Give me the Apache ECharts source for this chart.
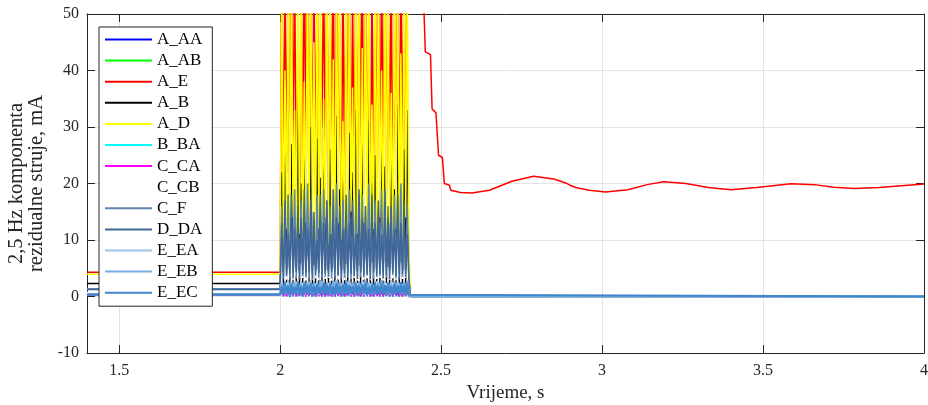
<!DOCTYPE html>
<html>
<head>
<meta charset="utf-8">
<script src="https://cdn.jsdelivr.net/npm/echarts@6/dist/echarts.min.js"></script>
<style>html,body{margin:0;padding:0;background:#fff;}#c{width:928px;height:405px;}</style>
</head>
<body>
<div id="c"></div>
<script>
// ---------- DATA ----------
const seriesNames = ['A_AA','A_AB','A_E','A_B','A_D','B_BA','C_CA','C_CB','C_F','D_DA','E_EA','E_EB','E_EC'];
const xTicks = [1.5, 2, 2.5, 3, 3.5, 4];
const yTicks = [-10, 0, 10, 20, 30, 40, 50];
const startT = 1.4;

// burst sample times (s)
const burstT = [
  2.000,2.005,2.010,2.015,2.020,2.025,2.030,2.035,2.040,2.045,
  2.050,2.055,2.060,2.065,2.070,2.075,2.080,2.085,2.090,2.095,
  2.100,2.105,2.110,2.115,2.120,2.125,2.130,2.135,2.140,2.145,
  2.150,2.155,2.160,2.165,2.170,2.175,2.180,2.185,2.190,2.195,
  2.200,2.205,2.210,2.215,2.220,2.225,2.230,2.235,2.240,2.245,
  2.250,2.255,2.260,2.265,2.270,2.275,2.280,2.285,2.290,2.295,
  2.300,2.305,2.310,2.315,2.320,2.325,2.330,2.335,2.340,2.345,
  2.350,2.355,2.360,2.365,2.370,2.375,2.380,2.385,2.390,2.395,
  2.400
];

const A_AA = [
  0.3,1.0,0.1,0.7,0.2,1.2,0.0,0.8,0.1,1.1,
  0.2,0.6,0.1,1.3,0.0,0.9,0.2,0.7,0.1,1.2,
  0.0,0.8,0.2,1.0,0.1,0.6,0.0,1.3,0.2,0.9,
  0.1,1.1,0.0,0.7,0.2,1.2,0.1,0.8,0.0,1.0,
  0.2,0.6,0.1,1.3,0.0,0.9,0.2,1.1,0.1,0.7,
  0.0,1.2,0.2,0.8,0.1,1.0,0.0,0.6,0.2,1.3,
  0.1,0.9,0.0,1.1,0.2,0.7,0.1,1.2,0.0,0.8,
  0.2,1.0,0.1,0.6,0.0,1.3,0.2,0.9,0.1,1.1,
  0.1
];
const A_AB = [
  0.3,0.8,0.0,1.1,0.2,0.7,0.1,1.3,0.0,0.9,
  0.1,1.2,0.2,0.6,0.0,1.0,0.1,0.8,0.2,1.1,
  0.1,0.7,0.0,1.2,0.2,0.9,0.1,0.6,0.0,1.3,
  0.2,0.8,0.1,1.0,0.0,0.7,0.2,1.1,0.1,0.9,
  0.0,1.2,0.2,0.6,0.1,1.0,0.0,0.8,0.2,1.3,
  0.1,0.7,0.0,1.1,0.2,0.9,0.1,1.2,0.0,0.6,
  0.2,1.0,0.1,0.8,0.0,1.3,0.2,0.7,0.1,1.1,
  0.0,0.9,0.2,1.2,0.1,0.6,0.0,1.0,0.2,0.8,
  0.0
];
const A_E = [
  4.3,62,18,60,22,58,12,65,25,60,
  15,47,3,60,20,62,28,60,10,55,
  22,60,18,60,14,44,30,60,20,58,
  12,60,26,60,16,62,22,49,9,60,
  18,60,24,60,14,53,20,60,11,61,
  27,60,19,60,23,46,2.7,60,15,60,
  21,62,13,60,25,57,17,60,22,60,
  12,50,20,60,16,60,24,60,18,56,
  60
];
const A_B = [
  2.3,22,2,31,2.5,18,1.8,27,2.2,14,
  2.6,33,2,20,2.4,25,1.9,16,2.5,30,
  2.1,12,2.3,28,2,21,2.6,34,1.8,17,
  2.4,26,2.1,13,2.5,32,2,19,2.3,24,
  1.9,15,2.6,29,2.2,22,2,33,2.4,18,
  2.1,27,2.5,14,1.9,31,2.3,20,2,25,
  2.6,16,2.2,30,2,23,2.4,13,2.1,28,
  2.5,19,2,34,2.3,17,2.2,26,1.9,33,
  2.2
];
const A_D = [
  3.95,60,8,40,12,60,6,60,14,33,
  9,60,11,60,7,38,13,60,10,60,
  15,45,8,60,12,60,6,35,14,60,
  9,60,11,42,7,60,13,60,10,31,
  12,60,8,60,15,37,9,60,11,60,
  6,44,13,60,10,60,8,34,12,60,
  9,60,14,40,7,60,11,60,13,36,
  8,60,12,60,10,43,9,60,14,60,
  8
];
const B_BA = [
  0.3,1.2,0.0,0.9,0.1,1.4,0.2,0.7,0.0,1.1,
  0.1,0.8,0.2,1.3,0.0,1.0,0.1,1.4,0.2,0.7,
  0.0,1.1,0.1,0.9,0.2,1.2,0.0,0.8,0.1,1.3,
  0.2,1.0,0.0,1.4,0.1,0.7,0.2,1.1,0.0,0.9,
  0.1,1.3,0.2,0.8,0.0,1.2,0.1,1.0,0.2,1.4,
  0.0,0.7,0.1,1.1,0.2,0.9,0.0,1.3,0.1,0.8,
  0.2,1.2,0.0,1.0,0.1,1.4,0.2,0.7,0.0,1.1,
  0.1,0.9,0.2,1.3,0.0,0.8,0.1,1.2,0.2,1.0,
  0.1
];
const C_CA = [
  0.3,0.9,0.1,1.2,0.0,0.8,0.2,1.0,0.1,1.3,
  0.0,0.7,0.2,1.1,0.1,0.9,0.0,1.2,0.2,0.8,
  0.1,1.3,0.0,0.7,0.2,1.0,0.1,1.1,0.0,0.9,
  0.2,0.8,0.1,1.2,0.0,1.3,0.2,0.7,0.1,1.0,
  0.0,1.1,0.2,0.9,0.1,0.8,0.0,1.2,0.2,0.7,
  0.1,1.0,0.0,1.3,0.2,1.1,0.1,0.9,0.0,1.2,
  0.2,0.7,0.1,1.0,0.0,1.2,0.2,0.8,0.1,1.3,
  0.0,1.1,0.2,0.9,0.1,1.0,0.0,1.2,0.2,0.8,
  0.1
];
const C_CB = [
  0.7,4.5,3.2,5.8,3.0,4.9,3.6,6.1,2.9,5.2,
  3.4,4.6,3.1,5.9,3.3,5.0,2.8,6.2,3.5,4.7,
  3.0,5.6,3.2,4.8,2.9,6.0,3.4,5.1,3.1,4.6,
  3.3,5.7,2.8,4.9,3.5,6.1,3.0,5.3,3.2,4.7,
  2.9,5.8,3.4,5.0,3.1,6.2,3.3,4.8,2.8,5.5,
  3.5,4.6,3.0,5.9,3.2,5.1,2.9,6.0,3.4,4.9,
  3.1,5.7,3.3,4.7,2.8,6.1,3.5,5.2,3.0,4.8,
  3.2,5.8,2.9,5.0,3.4,6.0,3.1,4.7,3.3,5.4,
  0.5
];
const C_F = [
  1.35,16,3.5,12,4,18,3,14,4.5,19,
  3.2,13,4,17,3.6,11,4.2,20,3,15,
  3.8,12,4.4,18,3.3,14,4,19,3.5,11,
  4.1,16,3.2,13,4.5,20,3.6,12,4,17,
  3.3,14,4.2,19,3,11,3.9,16,4.4,13,
  3.4,18,4,12,3.7,20,4.3,14,3.1,17,
  4,11,3.6,19,4.2,13,3.3,16,4.5,12,
  3.8,18,3.2,14,4.1,20,3.5,12,4,16,
  3
];
const D_DA = [
  1.25,13,3,17,3.6,11,4,18,3.2,12,
  4.3,16,3,14,3.9,19,3.4,12,4.1,17,
  3,15,3.7,10,4.2,18,3.1,13,4,17,
  3.5,11,4.4,19,3.2,14,3.8,16,3,12,
  4.1,18,3.3,13,4,17,3.6,11,3.1,19,
  4.2,14,3.4,16,3.9,12,3,18,4.3,13,
  3.5,17,4,11,3.2,19,3.8,14,3.1,16,
  4.2,12,3.6,18,3,13,4,17,3.4,11,
  2.8
];
const E_EA = [
  0.45,2.6,0.5,2.1,0.8,2.9,0.4,2.3,0.7,2.7,
  0.3,2.0,0.6,2.8,0.5,2.2,0.8,2.5,0.4,2.9,
  0.6,2.1,0.7,2.6,0.3,2.4,0.5,2.8,0.7,2.0,
  0.4,2.7,0.6,2.3,0.8,2.9,0.5,2.2,0.3,2.6,
  0.7,2.4,0.5,2.8,0.6,2.1,0.4,2.7,0.8,2.3,
  0.5,2.9,0.3,2.2,0.6,2.6,0.7,2.0,0.4,2.8,
  0.5,2.4,0.8,2.1,0.6,2.7,0.3,2.5,0.7,2.9,
  0.4,2.2,0.6,2.6,0.5,2.3,0.8,2.8,0.4,2.1,
  0.6
];
const E_EB = [
  0.4,2.2,0.6,2.7,0.4,2.0,0.7,2.5,0.3,2.3,
  0.6,2.8,0.5,2.1,0.7,2.6,0.3,2.4,0.6,2.0,
  0.4,2.7,0.5,2.2,0.8,2.9,0.4,2.1,0.6,2.5,
  0.7,2.3,0.3,2.8,0.5,2.0,0.6,2.6,0.4,2.2,
  0.5,2.9,0.7,2.1,0.3,2.5,0.6,2.3,0.5,2.7,
  0.4,2.0,0.6,2.8,0.7,2.2,0.3,2.6,0.5,2.1,
  0.7,2.5,0.4,2.9,0.6,2.0,0.5,2.4,0.3,2.2,
  0.6,2.7,0.5,2.1,0.7,2.6,0.4,2.3,0.6,2.8,
  0.5
];
const E_EC = [
  0.35,1.8,0.3,2.4,0.5,1.9,0.2,2.2,0.4,1.7,
  0.3,2.5,0.4,1.8,0.2,2.3,0.5,2.0,0.3,2.4,
  0.4,1.9,0.2,2.2,0.5,1.7,0.3,2.5,0.4,2.0,
  0.2,2.3,0.4,1.8,0.3,2.4,0.5,1.9,0.2,2.1,
  0.4,2.5,0.3,2.0,0.5,1.8,0.2,2.3,0.4,1.9,
  0.3,2.2,0.5,2.4,0.2,1.7,0.4,2.1,0.3,2.5,
  0.5,1.9,0.2,2.3,0.4,2.0,0.3,2.4,0.5,1.8,
  0.2,2.2,0.4,1.9,0.3,2.5,0.5,2.0,0.2,2.3,
  0.3
];

// after the burst
const afterT = [2.405, 4.0];
const afterV = [0, 0];
const redTailT = [2.440, 2.451, 2.467, 2.472, 2.484, 2.492, 2.504, 2.510, 2.526, 2.530, 2.560, 2.596, 2.650, 2.720, 2.787, 2.850, 2.887, 2.900, 2.918, 2.960, 3.011, 3.080, 3.140, 3.192, 3.260, 3.330, 3.400, 3.480, 3.587, 3.660, 3.720, 3.783, 3.860, 3.930, 4.000];
const redTailV = [62, 43.3, 42.8, 33.2, 32.5, 25.0, 24.6, 20.0, 19.7, 18.8, 18.4, 18.3, 18.8, 20.4, 21.3, 20.8, 20.1, 19.7, 19.3, 18.8, 18.5, 18.9, 19.8, 20.3, 20.0, 19.3, 18.9, 19.3, 19.95, 19.8, 19.35, 19.1, 19.3, 19.6, 19.9];

const colors = ['#0000FF','#00FF00','#FF0000','#000000','#FFFF00','#00FFFF','#FF00FF','#FFFFFF','#5F84AD','#40679A','#9FC4EA','#74AAE0','#3F86CC'];
const widths = [1.5,1.5,1.5,1.3,1.5,1.5,1.5,1.5,1.5,1.5,2,2,2];
const burstVals = [A_AA, A_AB, A_E, A_B, A_D, B_BA, C_CA, C_CB, C_F, D_DA, E_EA, E_EB, E_EC];

// ---------- BUILD ----------
function build(vals, tailT, tailV) {
  const d = [[startT, vals[0]]];
  burstT.forEach((t, i) => d.push([t, vals[i]]));
  tailT.forEach((t, i) => d.push([t, tailV[i]]));
  return d;
}
const FONT = '"Liberation Serif", "Times New Roman", serif';
const AX = '#262626';

const series = seriesNames.map((n, i) => ({
  name: n,
  type: 'line',
  symbol: 'none',
  animation: false,
  clip: true,
  data: n === 'A_E' ? build(burstVals[i], redTailT, redTailV) : build(burstVals[i], afterT, afterV),
  lineStyle: { color: colors[i], width: widths[i] },
  itemStyle: { color: colors[i] },
  z: 2 + i * 0.01
}));

const chart = echarts.init(document.getElementById('c'), null, { renderer: 'canvas' });
chart.setOption({
  animation: false,
  color: colors,
  textStyle: { fontFamily: FONT },
  grid: { left: 87, top: 14, width: 837, height: 339, containLabel: false, outerBoundsMode: 'none' },
  legend: {
    orient: 'vertical',
    left: 99, top: 27,
    icon: 'rect',
    itemWidth: 47, itemHeight: 2,
    itemGap: 4.1,
    padding: [4, 10, 5, 6],
    backgroundColor: '#ffffff',
    borderColor: AX, borderWidth: 1,
    selectedMode: false,
    textStyle: { fontFamily: FONT, fontSize: 17, color: '#000', lineHeight: 17 },
    data: seriesNames
  },
  xAxis: [{
    type: 'value', min: startT, max: 4,
    name: 'Vrijeme, s', nameLocation: 'middle', nameGap: 25,
    nameTextStyle: { fontFamily: FONT, fontSize: 19, color: AX },
    axisLine: { onZero: false, lineStyle: { color: AX, width: 1 } },
    axisTick: { inside: true, length: 8, customValues: xTicks, lineStyle: { color: AX } },
    axisLabel: { customValues: xTicks, fontFamily: FONT, fontSize: 16, color: AX, margin: 10 },
    splitLine: { show: true, lineStyle: { color: '#e3e3e3', width: 1 } }
  }, {
    type: 'value', min: startT, max: 4, position: 'top',
    axisLine: { onZero: false, lineStyle: { color: AX, width: 1 } },
    axisTick: { inside: true, length: 8, customValues: xTicks, lineStyle: { color: AX } },
    axisLabel: { show: false },
    splitLine: { show: false }
  }],
  yAxis: [{
    type: 'value', min: -10, max: 50, interval: 10,
    name: '2,5 Hz komponenta\nrezidualne struje, mA', nameLocation: 'middle', nameGap: 36,
    nameTextStyle: { fontFamily: FONT, fontSize: 20.5, color: AX, lineHeight: 20 },
    axisLine: { show: true, onZero: false, lineStyle: { color: AX, width: 1 } },
    axisTick: { show: true, inside: true, length: 8, lineStyle: { color: AX } },
    axisLabel: { fontFamily: FONT, fontSize: 16, color: AX, margin: 8 },
    splitLine: { show: true, lineStyle: { color: '#e3e3e3', width: 1 } }
  }, {
    type: 'value', min: -10, max: 50, interval: 10, position: 'right',
    axisLine: { show: true, onZero: false, lineStyle: { color: AX, width: 1 } },
    axisTick: { show: true, inside: true, length: 8, lineStyle: { color: AX } },
    axisLabel: { show: false },
    splitLine: { show: false }
  }],
  series: series
});
</script>
</body>
</html>
